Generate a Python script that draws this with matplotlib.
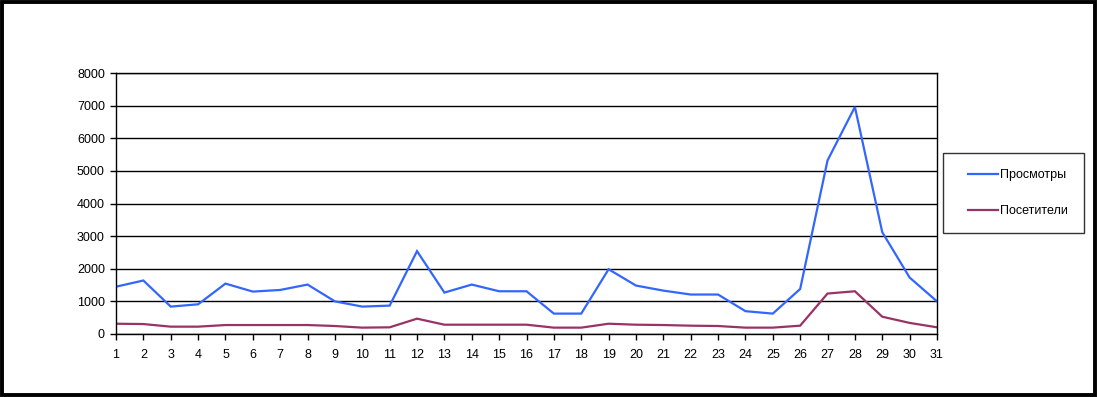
import matplotlib
matplotlib.use("Agg")
import matplotlib.pyplot as plt
from matplotlib.patches import Rectangle
from matplotlib.legend_handler import HandlerLine2D

plt.rcParams['font.family'] = ['Liberation Sans', 'DejaVu Sans']

days = list(range(1, 32))
views = [1450, 1640, 840, 910, 1545, 1300, 1350, 1515, 1000, 840, 870, 2540, 1270, 1515,
         1310, 1310, 625, 625, 1985, 1485, 1330, 1210, 1210, 700, 625, 1380, 5320, 6960,
         3120, 1730, 1000]
visitors = [315, 305, 225, 225, 275, 275, 275, 275, 245, 195, 205, 470, 285, 285,
            285, 285, 195, 195, 315, 285, 275, 255, 245, 195, 195, 255, 1240, 1310,
            530, 340, 205]
series_names = ['Просмотры', 'Посетители']
y_ticks = [0, 1000, 2000, 3000, 4000, 5000, 6000, 7000, 8000]

W, H = 1098, 397
fig = plt.figure(figsize=(W / 100, H / 100), dpi=100)
fig.patch.set_facecolor('white')

ax = fig.add_axes([116 / W, (H - 334) / H, (937 - 116) / W, (334 - 73) / H])
l1, = ax.plot(days, views, color='#3366FF', lw=1.6, label=series_names[0], solid_joinstyle='miter')
l2, = ax.plot(days, visitors, color='#993366', lw=1.6, label=series_names[1], solid_joinstyle='miter')

ax.set_xlim(1, 31)
ax.set_ylim(0, 8000)
ax.set_xticks(days)
ax.set_xticklabels([str(d) for d in days])
ax.set_yticks(y_ticks)
ax.set_yticklabels([str(v) for v in y_ticks])
ax.yaxis.grid(True, color='black', lw=1)
ax.set_axisbelow(True)
for s in ax.spines.values():
    s.set_color('black')
    s.set_linewidth(1)
ax.tick_params(axis='both', direction='out', length=4, width=1, color='black',
               labelsize=9, labelcolor='black')
ax.tick_params(axis='x', pad=7)
ax.tick_params(axis='y', pad=4)

hmap = {l1: HandlerLine2D(xpad=0.72), l2: HandlerLine2D(xpad=0.72)}
leg = fig.legend(handles=[l1, l2], loc='upper left', bbox_to_anchor=(943 / W, 1 - 153 / H), fontsize=9,
                 frameon=True, fancybox=False, edgecolor='black', borderpad=1.3,
                 labelspacing=1.9, handlelength=3.12, handletextpad=0.16, borderaxespad=0,
                 handler_map=hmap)
leg.get_frame().set_linewidth(1)

fig.patches.append(Rectangle((1.5 / W, 1 - 395 / H), 1093 / W, 393 / H, transform=fig.transFigure,
                             fill=False, edgecolor='black', lw=2.8))

fig.savefig('out.png', dpi=100, facecolor='white')
